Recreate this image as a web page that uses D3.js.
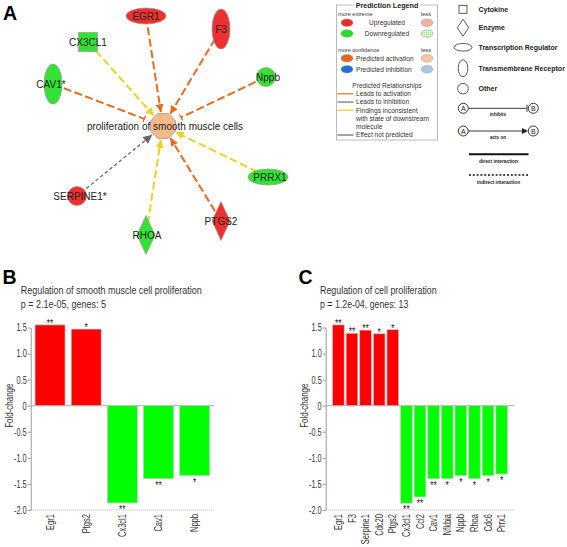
<!DOCTYPE html>
<html><head><meta charset="utf-8">
<script src="https://cdn.jsdelivr.net/npm/d3@7"></script>
<style>body{margin:0;background:#fff}svg{display:block}</style>
</head><body>
<script>
// ---------------- DATA ----------------
const targetNode = "proliferation of smooth muscle cells";
const networkNodes = ["EGR1","F3","CX3CL1","CAV1*","Nppb","PRRX1","PTGS2","RHOA","SERPINE1*"];
const nodeTypes = ["Transcription Regulator","Transmembrane Receptor","Cytokine","Transmembrane Receptor","Other","Transcription Regulator","Enzyme","Enzyme","Other"];
const nodeRegulation = ["up","up","down","down","down","down","up","down","up"];
const edgeRelation = ["activation","activation","inconsistent","activation","activation","inconsistent","activation","inconsistent","notpredicted"];
const edgeEffect = ["acts on","acts on","acts on","inhibits","inhibits","acts on","acts on","acts on","acts on"];

const titleB = "Regulation of smooth muscle cell proliferation";
const subB = "p = 2.1e-05, genes: 5";
const genesB = ["Egr1","Ptgs2","Cx3cl1","Cav1","Nppb"];
const foldB = [1.55,1.47,-1.865,-1.40,-1.34];
const sigB = ["**","*","**","**","*"];

const titleC = "Regulation of cell proliferation";
const subC = "p = 1.2e-04, genes: 13";
const genesC = ["Egr1","F3","Serpine1","Cdc20","Ptgs2","Cx3cl1","Ccl2","Cav1","Nfkbia","Nppb","Rhoa","Cdc6","Prrx1"];
const foldC = [1.55,1.39,1.45,1.38,1.46,-1.87,-1.75,-1.40,-1.40,-1.34,-1.40,-1.34,-1.31];
const sigC = ["**","**","**","*","*","**","**","**","*","*","*","*","*"];

const yTicks = [1.5,1.0,0.5,0,-0.5,-1.0,-1.5,-2.0];
const yTickLabels = ["1.5","1.0","0.5","0","-0.5","-1.0","-1.5","-2.0"];

// ---------------- LAYOUT (not data) ----------------
const W = 567, H = 547;
const centerPos = [163,126];
const nodePos = {"EGR1":[146,16],"F3":[221,29],"CX3CL1":[88,42],"CAV1*":[53,84],"Nppb":[266,77],
  "PRRX1":[268,177],"PTGS2":[221,221],"RHOA":[146,235],"SERPINE1*":[77,196]};
const labelDx = {"EGR1":0,"F3":0,"CX3CL1":0,"CAV1*":-2,"Nppb":2,"PRRX1":2,"PTGS2":0,"RHOA":1,"SERPINE1*":3};

const colUp = "#ee3030", colDown = "#33e233";
const relColor = {activation:"#ec6a1c", inconsistent:"#f2d01e", notpredicted:"#666"};
const FONT = "'Liberation Sans', Arial, sans-serif";

const svg = d3.select("body").append("svg").attr("width",W).attr("height",H)
  .attr("font-family",FONT);
svg.append("rect").attr("width",W).attr("height",H).attr("fill","#fff");

// markers
const defs = svg.append("defs");
Object.entries(relColor).forEach(([k,c])=>{
  defs.append("marker").attr("id","arr-"+k).attr("viewBox","0 -5 10 10")
    .attr("refX",10).attr("refY",0).attr("markerWidth",k==="notpredicted"?9:8)
    .attr("markerHeight",k==="notpredicted"?9:8).attr("markerUnits","userSpaceOnUse")
    .attr("orient","auto").append("path").attr("d","M0,-5L10,0L0,5Z").attr("fill",c);
  defs.append("marker").attr("id","tee-"+k).attr("viewBox","-1 -5 2 10")
    .attr("refX",0).attr("refY",0).attr("markerWidth",1.5).attr("markerHeight",7)
    .attr("markerUnits","userSpaceOnUse").attr("orient","auto")
    .append("rect").attr("x",-1).attr("y",-5).attr("width",2).attr("height",10).attr("fill",c);
});
const pat = defs.append("pattern").attr("id","hatch").attr("width",2).attr("height",2)
  .attr("patternUnits","userSpaceOnUse");
pat.append("rect").attr("width",2).attr("height",2).attr("fill","#d6f5d0");
pat.append("rect").attr("width",1).attr("height",1).attr("fill","#9ee59a");

// ---------------- PANEL A: network ----------------
const gA = svg.append("g");
gA.append("text").attr("x",3).attr("y",20).attr("font-size",19.5).attr("font-weight","bold").text("A");

const nodes = networkNodes.map((id,i)=>({id,type:nodeTypes[i],reg:nodeRegulation[i],
  rel:edgeRelation[i],eff:edgeEffect[i],x:nodePos[id][0],y:nodePos[id][1]}));

gA.selectAll("line.edge").data(nodes).join("line").attr("class","edge")
  .each(function(d){
    const dx = centerPos[0]-d.x, dy = centerPos[1]-d.y, L = Math.hypot(dx,dy);
    const endDist = d.eff==="inhibits" ? 20 : 14;
    d3.select(this).attr("x1",d.x).attr("y1",d.y)
      .attr("x2",centerPos[0]-dx/L*endDist).attr("y2",centerPos[1]-dy/L*endDist);
  })
  .attr("stroke",d=>relColor[d.rel])
  .attr("stroke-width",d=>d.rel==="notpredicted"?1.2:2)
  .attr("stroke-dasharray",d=>d.rel==="notpredicted"?"3.5,2.5":"8,3.5")
  .attr("marker-end",d=>(d.eff==="inhibits"?"url(#tee-":"url(#arr-")+d.rel+")");

function shape(sel, type, fill){
  if(type==="Cytokine") sel.append("rect").attr("x",-9.5).attr("y",-9.5).attr("width",19).attr("height",19).attr("fill",fill);
  else if(type==="Enzyme") sel.append("path").attr("d","M0,-19.5L9,0L0,19.5L-9,0Z").attr("fill",fill);
  else if(type==="Transcription Regulator") sel.append("ellipse").attr("rx",20).attr("ry",8).attr("fill",fill);
  else if(type==="Transmembrane Receptor") sel.append("ellipse").attr("rx",9).attr("ry",20).attr("fill",fill);
  else sel.append("circle").attr("r",9.5).attr("fill",fill);
}
const ng = gA.selectAll("g.node").data(nodes).join("g").attr("class","node")
  .attr("transform",d=>`translate(${d.x},${d.y})`);
ng.each(function(d){ shape(d3.select(this), d.type, d.reg==="up"?colUp:colDown); });
ng.selectAll("rect,path,ellipse,circle").attr("stroke","#999").attr("stroke-width",0.7);
ng.append("text").attr("x",d=>labelDx[d.id]).attr("dy","0.36em").attr("text-anchor","middle")
  .attr("font-size",10).attr("fill","#222").text(d=>d.id);

const octR = 13.5;
const oct = d3.range(8).map(k=>{const a=Math.PI/8+k*Math.PI/4;return [centerPos[0]+octR*Math.cos(a),centerPos[1]+octR*Math.sin(a)];});
gA.append("path").attr("d","M"+oct.map(p=>p.join(",")).join("L")+"Z")
  .attr("fill","#f6b987").attr("stroke","#999").attr("stroke-width",0.8);
gA.append("text").attr("x",centerPos[0]+2).attr("y",centerPos[1]).attr("dy","0.36em")
  .attr("text-anchor","middle").attr("font-size",10).attr("fill","#222").text(targetNode);

// ---------------- Prediction legend ----------------
const gL = svg.append("g").attr("font-size",6.6).attr("fill","#333");
gL.append("rect").attr("x",336.5).attr("y",5).attr("width",101).attr("height",135)
  .attr("fill","none").attr("stroke","#aaa").attr("stroke-width",0.8);
gL.append("rect").attr("x",354).attr("y",1).attr("width",66).attr("height",8).attr("fill","#fff");
gL.append("text").attr("x",387).attr("y",7.8).attr("text-anchor","middle").attr("font-weight","bold")
  .attr("font-size",7.2).attr("fill","#222").text("Prediction Legend");
const lgEll = (x,y,fill)=>gL.append("ellipse").attr("cx",x).attr("cy",y).attr("rx",6).attr("ry",3.8)
  .attr("fill",fill).attr("stroke","#999").attr("stroke-width",0.5);
gL.append("text").attr("x",338).attr("y",16).attr("font-size",5.6).text("more extreme");
gL.append("text").attr("x",421).attr("y",16).attr("font-size",5.6).text("less");
lgEll(347,22.7,"#ee2a2a"); lgEll(427,22.7,"#f4b3a0");
gL.append("text").attr("x",387).attr("y",25).attr("text-anchor","middle").text("Upregulated");
lgEll(347,33.5,"#22e022"); lgEll(427,33.5,"url(#hatch)");
gL.append("text").attr("x",387).attr("y",35.8).attr("text-anchor","middle").text("Downregulated");
gL.append("text").attr("x",338).attr("y",51.5).attr("font-size",5.6).text("more confidence");
gL.append("text").attr("x",421).attr("y",51.5).attr("font-size",5.6).text("less");
lgEll(347,58.3,"#e8661a"); lgEll(427,58.3,"#f7c6a0");
gL.append("text").attr("x",356).attr("y",60.6).text("Predicted activation");
lgEll(347,69.3,"#1f6fd6"); lgEll(427,69.3,"#a9c8e2");
gL.append("text").attr("x",356).attr("y",71.6).text("Predicted inhibition");
gL.append("text").attr("x",387).attr("y",88).attr("text-anchor","middle").text("Predicted Relationships");
const lgLine=(y,c,dash)=>gL.append("line").attr("x1",337.5).attr("x2",353.5).attr("y1",y).attr("y2",y)
  .attr("stroke",c).attr("stroke-width",1.2).attr("stroke-dasharray",dash||null);
lgLine(93.8,"#ec6a1c"); gL.append("text").attr("x",356).attr("y",96).text("Leads to activation");
lgLine(102.1,"#2a5fd0"); lgLine(102.1,"#e8c82a","1.5,1.5");
gL.append("text").attr("x",356).attr("y",104.3).text("Leads to inhibition");
lgLine(110.2,"#f2d01e"); gL.append("text").attr("x",356).attr("y",112.5).text("Findings inconsistent");
gL.append("text").attr("x",356).attr("y",120.8).text("with state of downstream");
gL.append("text").attr("x",356).attr("y",129).text("molecule");
lgLine(135,"#666"); gL.append("text").attr("x",356).attr("y",137.3).text("Effect not predicted");

// ---------------- Shape legend ----------------
const gS = svg.append("g").attr("font-size",7).attr("font-weight","bold").attr("fill","#222");
const shapeTypes = ["Cytokine","Enzyme","Transcription Regulator","Transmembrane Receptor","Other"];
const shapeLabels = ["Cytokine","Enzyme","Transcription Regulator","Transmembrane  Receptor","Other"];
const shapeY = [9.3,27.7,47.3,68.3,88.7];
shapeTypes.forEach((t,i)=>{
  const g = gS.append("g").attr("transform",`translate(463,${shapeY[i]})`);
  if(t==="Cytokine") g.append("rect").attr("x",-4).attr("y",-4).attr("width",8).attr("height",8);
  else if(t==="Enzyme") g.append("path").attr("d","M0,-8.5L5.7,0L0,8.5L-5.7,0Z");
  else if(t==="Transcription Regulator") g.append("ellipse").attr("rx",9).attr("ry",3.8);
  else if(t==="Transmembrane Receptor") g.append("ellipse").attr("rx",4.8).attr("ry",8.5);
  else g.append("circle").attr("r",5.3);
  g.selectAll("*").attr("fill","none").attr("stroke","#333").attr("stroke-width",0.8);
  gS.append("text").attr("x",478.5).attr("y",shapeY[i]).attr("dy","0.35em").text(shapeLabels[i]);
});
function abRow(y,label,kind){
  const g = gS.append("g");
  g.append("line").attr("x1",468.5).attr("x2",kind==="inhibits"?526.5:524).attr("y1",y).attr("y2",y)
    .attr("stroke","#222").attr("stroke-width",0.9);
  if(kind==="inhibits") g.append("line").attr("x1",527).attr("x2",527).attr("y1",y-3.5).attr("y2",y+3.5).attr("stroke","#222").attr("stroke-width",0.9);
  else g.append("path").attr("d",`M522,${y-3}L528,${y}L522,${y+3}Z`).attr("fill","#222");
  [["A",463.3],["B",533.3]].forEach(([t,x])=>{
    g.append("circle").attr("cx",x).attr("cy",y).attr("r",5).attr("fill","#fff").attr("stroke","#222").attr("stroke-width",0.9);
    g.append("text").attr("x",x).attr("y",y).attr("dy","0.36em").attr("text-anchor","middle")
      .attr("font-size",7).attr("font-weight","normal").text(t);
  });
  g.append("text").attr("x",498).attr("y",y+7.5).attr("text-anchor","middle").attr("font-size",4.6).text(label);
}
abRow(108.3,"inhibits","inhibits");
abRow(131,"acts on","acts");
gS.append("line").attr("x1",469).attr("x2",528.5).attr("y1",154.3).attr("y2",154.3).attr("stroke","#111").attr("stroke-width",2);
gS.append("text").attr("x",498.5).attr("y",162.8).attr("text-anchor","middle").attr("font-size",4.8).text("direct interaction");
gS.append("line").attr("x1",469).attr("x2",528.5).attr("y1",175).attr("y2",175).attr("stroke","#111").attr("stroke-width",1.5).attr("stroke-dasharray","2,1.8");
gS.append("text").attr("x",498.5).attr("y",183.5).attr("text-anchor","middle").attr("font-size",4.8).text("indirect interaction");

// ---------------- Bar charts ----------------
function sText(g,x,y,txt,size,sx,anchor,rot,fill){
  return g.append("text").attr("transform",`translate(${x},${y})${rot?` rotate(${rot})`:""} scale(${sx},1)`)
    .attr("font-size",size).attr("text-anchor",anchor||"start").attr("fill",fill||"#333").text(txt);
}
function barChart(o){
  const g = svg.append("g");
  g.append("text").attr("x",o.letterX).attr("y",284).attr("font-size",19.5).attr("font-weight","bold").text(o.letter);
  g.append("text").attr("x",o.titleX).attr("y",294.3).attr("font-size",10.5).attr("fill","#333")
    .attr("textLength",o.titleW).attr("lengthAdjust","spacingAndGlyphs").text(o.title);
  g.append("text").attr("x",o.titleX).attr("y",307.5).attr("font-size",10.5).attr("fill","#333")
    .attr("textLength",o.subW).attr("lengthAdjust","spacingAndGlyphs").text(o.sub);
  const x = d3.scaleBand().domain(o.genes).range(o.xr).paddingInner(o.pi).paddingOuter(o.po);
  const y = d3.scaleLinear().domain([-2,1.5]).range([510,327.5]);
  const ax = g.append("g").attr("transform",`translate(${o.xr[0]},0)`)
    .call(d3.axisLeft(y).tickValues(yTicks).tickFormat((d,i)=>yTickLabels[i]).tickSize(3).tickSizeOuter(0));
  ax.select(".domain").attr("stroke","#999");
  ax.selectAll(".tick line").attr("stroke","#999");
  ax.selectAll(".tick text").attr("font-size",10.5).attr("fill","#333").attr("font-family",FONT)
    .attr("x",-4/0.7).attr("transform","scale(0.7,1)");
  g.append("line").attr("x1",o.xr[0]).attr("x2",o.xr[1]).attr("y1",y(0)).attr("y2",y(0)).attr("stroke","#aaa").attr("stroke-width",1);
  g.append("line").attr("x1",o.xr[0]).attr("x2",o.xr[1]).attr("y1",y(-2)).attr("y2",y(-2)).attr("stroke","#aaa").attr("stroke-width",1).attr("stroke-dasharray","1,1");
  const data = o.genes.map((gname,i)=>({g:gname,v:o.fold[i],s:o.sig[i]}));
  g.selectAll("rect.bar").data(data).join("rect").attr("class","bar")
    .attr("x",d=>x(d.g)).attr("width",x.bandwidth())
    .attr("y",d=>y(Math.max(0,d.v))).attr("height",d=>Math.abs(y(d.v)-y(0)))
    .attr("fill",d=>d.v>0?"#ff0000":"#00ff00").attr("stroke","#c8c8c8").attr("stroke-width",0.7);
  data.forEach(d=>{
    const cx = x(d.g)+x.bandwidth()/2;
    const yy = d.v>0 ? y(d.v)+2 : y(d.v)+10;
    sText(g,cx,yy,d.s,10.5,0.8,"middle",null,"#222");
    sText(g,cx+3.6,514,d.g,10.5,0.72,"end",-90,"#333");
  });
  sText(g,o.ylabX,y(0),"Fold-change",10.5,0.76,"middle",-90,"#333");
}
barChart({letter:"B",letterX:2.5,titleX:20.7,title:titleB,titleW:181,sub:subB,subW:85.3,
  genes:genesB,fold:foldB,sig:sigB,xr:[30.7,214],pi:0.17,po:0.12,ylabX:13});
barChart({letter:"C",letterX:298.5,titleX:320,title:titleC,titleW:116.7,sub:subC,subW:88.3,
  genes:genesC,fold:foldC,sig:sigC,xr:[325.7,514.3],pi:0.14,po:0.5,ylabX:308});
</script>
</body></html>
